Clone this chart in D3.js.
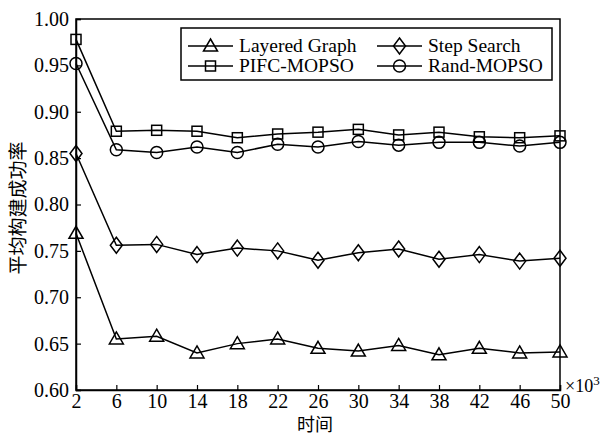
<!DOCTYPE html>
<html><head><meta charset="utf-8">
<script src="https://cdn.jsdelivr.net/npm/d3@7"></script>
</head><body style="margin:0">
<svg id="c" width="602" height="436"></svg>
<script>
const xValues = [2, 6, 10, 14, 18, 22, 26, 30, 34, 38, 42, 46, 50];
const layeredGraph = [0.769, 0.655, 0.658, 0.640, 0.650, 0.655, 0.645, 0.642, 0.648, 0.638, 0.645, 0.640, 0.641];
const stepSearch = [0.855, 0.756, 0.757, 0.746, 0.753, 0.750, 0.740, 0.748, 0.752, 0.741, 0.746, 0.739, 0.742];
const pifcMopso = [0.978, 0.879, 0.880, 0.879, 0.872, 0.876, 0.878, 0.881, 0.875, 0.878, 0.873, 0.872, 0.874];
const randMopso = [0.952, 0.859, 0.856, 0.862, 0.856, 0.865, 0.862, 0.868, 0.864, 0.867, 0.867, 0.863, 0.867];
const yTicks = [0.60, 0.65, 0.70, 0.75, 0.80, 0.85, 0.90, 0.95, 1.00];
const seriesNames = ["Layered Graph", "Step Search", "PIFC-MOPSO", "Rand-MOPSO"];
const seriesMarkers = ["triangle", "diamond", "square", "circle"];

const series = [layeredGraph, stepSearch, pifcMopso, randMopso].map((v, i) => ({name: seriesNames[i], marker: seriesMarkers[i], values: v}));

const svg = d3.select("#c");
const M = {l: 76, r: 560, t: 19, b: 390};
const x = d3.scaleLinear().domain([2, 50]).range([M.l, M.r]);
const y = d3.scaleLinear().domain([0.60, 1.00]).range([M.b, M.t]);

svg.append("rect").attr("x", M.l).attr("y", M.t).attr("width", M.r - M.l).attr("height", M.b - M.t)
  .attr("fill", "none").attr("stroke", "#000").attr("stroke-width", 1.5);

const xAxis = svg.append("g").attr("transform", `translate(0,${M.b})`)
  .call(d3.axisBottom(x).tickValues(xValues).tickSize(-5).tickPadding(4).tickFormat(d3.format("d")));
const yAxis = svg.append("g").attr("transform", `translate(${M.l},0)`)
  .call(d3.axisLeft(y).tickValues(yTicks).tickSize(-5).tickPadding(7).tickFormat(d3.format(".2f")));
[xAxis, yAxis].forEach(a => {
  a.attr("font-family", "Liberation Serif").attr("font-size", 20);
  a.select(".domain").attr("stroke", "#000").attr("stroke-width", 1.5);
  a.selectAll(".tick line").attr("stroke", "#000").attr("stroke-width", 1.2);
  a.selectAll("text").attr("font-family", "Liberation Serif").attr("font-size", 20).attr("fill", "#000");
});

svg.append("text").attr("x", 565).attr("y", 392).attr("font-family", "Liberation Serif").attr("font-size", 18)
  .text("×10").append("tspan").attr("dy", -7).attr("font-size", 13).text("3");

svg.append("text").attr("x", 315).attr("y", 431).attr("text-anchor", "middle")
  .attr("font-family", "Noto Sans CJK SC").attr("font-size", 18).text("时间");
svg.append("text").attr("transform", "translate(25,208) rotate(-90)").attr("text-anchor", "middle")
  .attr("font-family", "Noto Sans CJK SC").attr("font-size", 19).text("平均构建成功率");

function drawMarker(g, type, cx, cy) {
  const s = 6;
  let el;
  if (type === "triangle") el = g.append("path").attr("d", `M${cx},${cy - s - 1}L${cx + s + 1},${cy + s - 1}L${cx - s - 1},${cy + s - 1}Z`);
  else if (type === "diamond") el = g.append("path").attr("d", `M${cx},${cy - s - 2}L${cx + s},${cy}L${cx},${cy + s + 2}L${cx - s},${cy}Z`);
  else if (type === "square") el = g.append("rect").attr("x", cx - 5).attr("y", cy - 5).attr("width", 10).attr("height", 10);
  else el = g.append("circle").attr("cx", cx).attr("cy", cy).attr("r", 6);
  el.attr("fill", "none").attr("stroke", "#000").attr("stroke-width", 1.5);
}

const line = d3.line().x((d, i) => x(xValues[i])).y(d => y(d));
series.forEach(s => {
  const g = svg.append("g");
  g.append("path").attr("d", line(s.values)).attr("fill", "none").attr("stroke", "#000").attr("stroke-width", 1.5);
  s.values.forEach((v, i) => drawMarker(g, s.marker, x(xValues[i]), y(v)));
});

const lg = svg.append("g");
lg.append("rect").attr("x", 181).attr("y", 28).attr("width", 371).attr("height", 52)
  .attr("fill", "#fff").attr("stroke", "#000").attr("stroke-width", 1.5);
const cols = [188, 377], rows = [46, 66];
series.forEach((s, i) => {
  const cx = cols[i % 2], cy = rows[Math.floor(i / 2)];
  lg.append("line").attr("x1", cx).attr("x2", cx + 45).attr("y1", cy).attr("y2", cy).attr("stroke", "#000").attr("stroke-width", 1.5);
  drawMarker(lg, s.marker, cx + 22.5, cy);
  lg.append("text").attr("x", cx + 51).attr("y", cy + 6).attr("font-family", "Liberation Serif").attr("font-size", 19.5).text(s.name);
});
</script></body></html>
